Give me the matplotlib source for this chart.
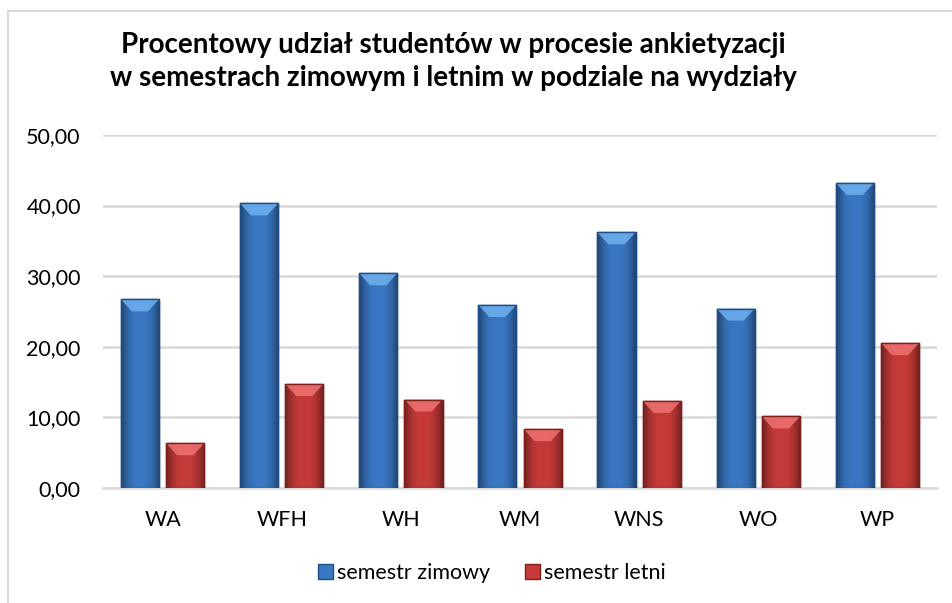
import numpy as np
import matplotlib
matplotlib.use('Agg')
import matplotlib.pyplot as plt
from matplotlib.patches import Polygon, Patch
from matplotlib.lines import Line2D

plt.rcParams['font.family'] = ['Lato', 'DejaVu Sans']

# Data
wydzialy = ['WA', 'WFH', 'WH', 'WM', 'WNS', 'WO', 'WP']
zimowy = [26.7, 40.3, 30.4, 25.9, 36.2, 25.4, 43.2]
letni = [6.3, 14.7, 12.5, 8.3, 12.3, 10.1, 20.5]
serie = ['semestr zimowy', 'semestr letni']
yticks = [0, 10, 20, 30, 40, 50]

# colours: (main, dark edge, light bevel)
kolory = [('#3a78c3', '#1f4d86', '#6fb0f0'),
          ('#c53b39', '#7e1f1e', '#ef7270')]

W, H = 953, 603
fig = plt.figure(figsize=(W / 100, H / 100), dpi=100)
ax_l, ax_r, ax_b, ax_t = 103, 937, 487.7, 135
ax = fig.add_axes([ax_l / W, 1 - ax_b / H, (ax_r - ax_l) / W, (ax_b - ax_t) / H])

x = np.arange(len(wydzialy))
width = 0.32
offset = 0.19
ax.set_xlim(-0.5, len(wydzialy) - 0.5)
ax.set_ylim(0, 50)

# pixel -> data scale, used for the bevel size
px_x = (len(wydzialy)) / (ax_r - ax_l)
px_y = 50 / (ax_b - ax_t)

# horizontal shading across a bar: dark edges, lighter centre
grad = np.linspace(-1, 1, 64)
shade = 1 - 0.45 * np.abs(grad) ** 2.5

for vals, sgn, (main, dark, light) in zip([zimowy, letni], [-1, 1], kolory):
    bars = ax.bar(x + sgn * offset, vals, width, color=main, edgecolor=dark,
                  linewidth=1.0, zorder=3)
    rgb = np.array(matplotlib.colors.to_rgb(main))
    img = (shade[None, :, None] * rgb[None, None, :]).clip(0, 1)
    for b in bars:
        x0, w, h = b.get_x(), b.get_width(), b.get_height()
        im = ax.imshow(img, extent=(x0, x0 + w, 0, h), aspect='auto',
                       zorder=3.5, interpolation='bilinear')
        im.set_clip_path(b)
        bev_h = 12 * px_y
        bev_w = 11 * px_x
        ax.add_patch(Polygon([(x0, h), (x0 + w, h), (x0 + w - bev_w, h - bev_h),
                              (x0 + bev_w, h - bev_h)], closed=True,
                             facecolor=light, edgecolor='none', alpha=0.85, zorder=4))
        ax.add_patch(Polygon([(x0, 0), (x0 + w, 0), (x0 + w, h), (x0, h)], closed=True,
                             facecolor='none', edgecolor=dark, linewidth=1.0, zorder=4.5))

ax.set_yticks(yticks)
ax.set_yticklabels([f'{v:.2f}'.replace('.', ',') for v in yticks], fontsize=15.5)
ax.set_xticks(x)
ax.set_xticklabels(wydzialy, fontsize=15.5)
ax.tick_params(length=0)
ax.tick_params(axis='y', pad=16)
ax.tick_params(axis='x', pad=16)
ax.yaxis.grid(True, color='#d9d9d9', linewidth=1.8, zorder=0)
ax.set_axisbelow(True)
for s in ['top', 'right', 'left']:
    ax.spines[s].set_visible(False)
ax.spines['bottom'].set_color('#d9d9d9')
ax.spines['bottom'].set_linewidth(1.8)

fig.text(0.476, 1 - 45 / H, 'Procentowy udział studentów w procesie ankietyzacji',
         ha='center', va='center', fontsize=20, fontweight='bold')
fig.text(0.476, 1 - 78 / H, 'w semestrach zimowym i letnim w podziale na wydziały',
         ha='center', va='center', fontsize=20, fontweight='bold')

handles = [Patch(facecolor=c[0], edgecolor=c[1]) for c in kolory]
fig.legend(handles, serie, loc='center', bbox_to_anchor=(0.516, 1 - 573 / H), ncol=2,
           frameon=False, fontsize=15.5, handlelength=0.7, handleheight=0.7,
           handletextpad=0.2, columnspacing=1.6)

# chart area border (top and left visible in the crop)
fig.add_artist(Line2D([8.5 / W, 1], [1 - 10.5 / H, 1 - 10.5 / H], color='#d9d9d9', linewidth=1.5))
fig.add_artist(Line2D([8.5 / W, 8.5 / W], [0, 1 - 10.5 / H], color='#d9d9d9', linewidth=1.5))

fig.savefig('out.png', dpi=100)
